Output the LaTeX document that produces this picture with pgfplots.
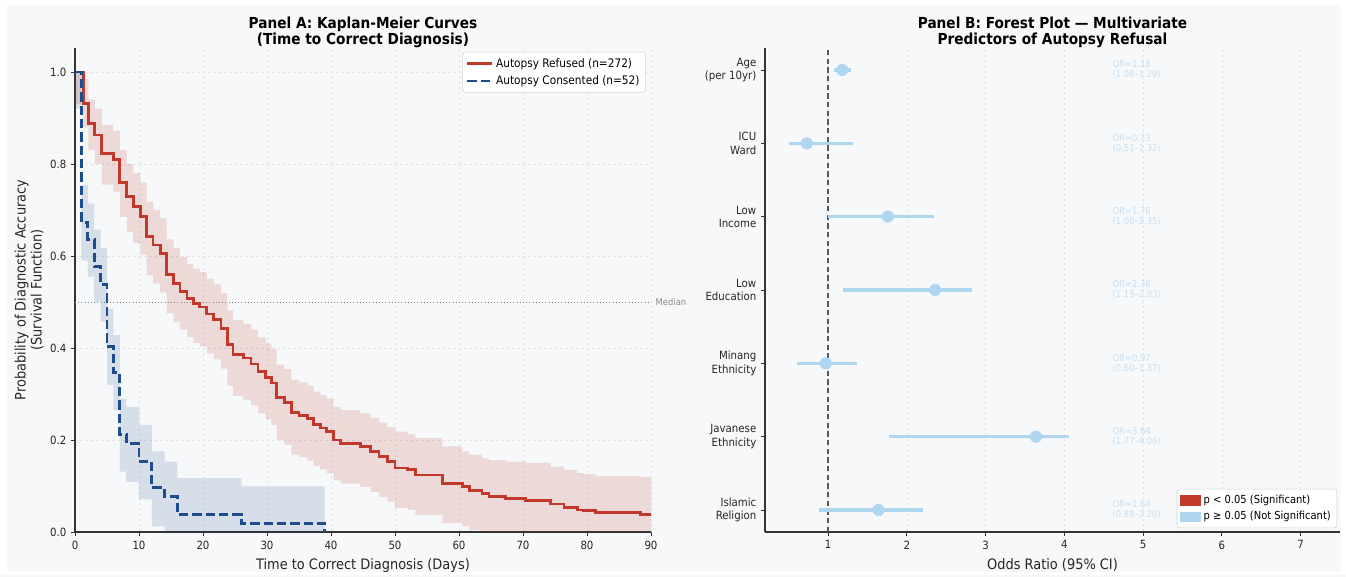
\documentclass[border=0pt]{standalone}
\usepackage{fontspec}
\setmainfont{DejaVu Sans Condensed}
\usepackage{pgfplots}
\usepackage{pgfplotstable}
\pgfplotsset{compat=1.18}
\usepgfplotslibrary{fillbetween}

\definecolor{bgc}{HTML}{F6F8FA}
\definecolor{redc}{HTML}{C0392B}
\definecolor{bluec}{HTML}{1E4D8C}
\definecolor{ltblue}{HTML}{AED6F1}
\definecolor{annc}{HTML}{C6DFF2}
\definecolor{spine}{HTML}{333333}

\pgfplotstableread{
t S lo hi
0 1.000 0.930 1.000
1.3 0.932 0.880 0.985
2.1 0.888 0.830 0.940
3.1 0.863 0.800 0.920
4.2 0.823 0.755 0.885
6.0 0.809 0.740 0.872
7.0 0.759 0.685 0.830
8.1 0.729 0.652 0.800
9.1 0.707 0.628 0.780
10.2 0.685 0.603 0.760
11.2 0.642 0.558 0.718
12.2 0.624 0.540 0.700
13.3 0.606 0.521 0.682
14.3 0.560 0.475 0.636
15.4 0.541 0.456 0.617
16.4 0.522 0.440 0.598
17.5 0.507 0.423 0.583
18.5 0.496 0.411 0.572
19.5 0.489 0.403 0.565
20.6 0.474 0.388 0.550
21.7 0.462 0.375 0.538
22.8 0.443 0.355 0.519
23.8 0.407 0.318 0.482
24.7 0.386 0.296 0.461
26.3 0.378 0.288 0.453
27.5 0.365 0.275 0.440
28.6 0.349 0.258 0.423
29.8 0.336 0.245 0.410
30.7 0.324 0.233 0.398
31.5 0.292 0.200 0.364
32.7 0.282 0.190 0.354
33.8 0.259 0.168 0.331
35.0 0.253 0.162 0.325
36.3 0.246 0.155 0.318
37.3 0.233 0.143 0.305
38.3 0.226 0.136 0.298
39.3 0.218 0.128 0.290
40.4 0.200 0.112 0.272
41.5 0.193 0.105 0.265
44.6 0.186 0.098 0.258
46.2 0.175 0.087 0.248
47.5 0.164 0.076 0.238
48.8 0.153 0.066 0.228
50.0 0.139 0.052 0.218
52.0 0.135 0.048 0.212
53.2 0.124 0.037 0.204
57.4 0.106 0.020 0.186
60.5 0.099 0.012 0.175
61.6 0.091 0.004 0.168
63.6 0.084 0.000 0.160
64.7 0.078 0.000 0.156
67.3 0.072 0.000 0.153
70.4 0.068 0.000 0.150
74.3 0.061 0.000 0.142
76.4 0.054 0.000 0.135
78.5 0.048 0.000 0.128
79.5 0.046 0.000 0.126
81.3 0.042 0.000 0.122
88.3 0.038 0.000 0.120
90.0 0.038 0.000 0.120
}\redtab

\pgfplotstableread{
t S lo hi
0 1.000 0.920 1.000
1 0.673 0.590 0.754
2 0.635 0.555 0.714
3 0.577 0.500 0.657
4 0.538 0.457 0.617
5 0.404 0.320 0.485
6 0.346 0.265 0.428
7 0.212 0.131 0.290
8 0.192 0.109 0.272
10 0.154 0.071 0.233
12 0.096 0.012 0.175
14 0.077 0.000 0.153
16 0.038 0.000 0.117
26 0.019 0.000 0.099
39 0.000 0.000 0.099
}\bluetab

\pgfplotstableread{
y or lo hi
6 1.18 1.08 1.29
5 0.73 0.51 1.32
4 1.76 1.00 2.35
3 2.36 1.19 2.83
2 0.97 0.60 1.37
1 3.64 1.77 4.06
0 1.64 0.89 2.20
}\foresttab

\tikzset{ann/.style={anchor=west, align=left, text=annc, inner sep=0pt, font=\fontsize{7}{7.6}\selectfont}}

\pgfplotsset{
  /pgf/number format/assume math mode=true,
  myax/.style={
    scale only axis, anchor=south west,
    axis lines=left, axis line style={-, draw=spine, line width=0.8pt},
    tick align=outside, tick style={draw=spine, line width=0.6pt}, major tick length=3pt,
    ticklabel style={font=\fontsize{8.5}{10}\selectfont, text=black!85},
    label style={font=\fontsize{10.8}{12}\selectfont, text=black!85},
    title style={font=\bfseries\fontsize{11.4}{12}\selectfont, align=center, yshift=-9pt},
    major grid style={draw=gray!22, dash pattern=on 2pt off 2pt, line width=0.4pt},
    axis background/.style={fill=bgc},
    clip=false,
  }
}

\begin{document}
\pagecolor{bgc}%
\begin{tikzpicture}
\path (0,0) rectangle (1009.5pt,-431.25pt);
% ---------------- Panel A ----------------
\begin{axis}[myax,
  at={(56.25pt,-399pt)}, width=432pt, height=363pt,
  xmin=0, xmax=90, ymin=0, ymax=1.052,
  xtick={0,10,...,90}, ytick={0,0.2,0.4,0.6,0.8,1.0},
  yticklabel style={/pgf/number format/.cd, fixed, fixed zerofill, precision=1},
  grid=major,
  title={Panel A: Kaplan-Meier Curves\\(Time to Correct Diagnosis)},
  xlabel={Time to Correct Diagnosis (Days)},
  ylabel={Probability of Diagnostic Accuracy\\(Survival Function)},
  ylabel style={align=center, yshift=-2pt},
  legend style={at={(0.991,0.992)}, anchor=north east, font=\fontsize{8.8}{10.5}\selectfont,
    draw=black!18, fill=white, rounded corners=2pt, inner sep=2.5pt, row sep=0.8pt},
  legend cell align=left,
  legend image code/.code={\draw[#1, sharp plot] (0cm,0cm) -- (0.65cm,0cm);},
]
\addplot[name path=rhi, draw=none, const plot, forget plot] table[x=t, y=hi]{\redtab};
\addplot[name path=rlo, draw=none, const plot, forget plot] table[x=t, y=lo]{\redtab};
\addplot[fill=redc, fill opacity=0.16, draw=none, forget plot] fill between[of=rhi and rlo];
\addplot[name path=bhi, draw=none, const plot, forget plot] table[x=t, y=hi]{\bluetab};
\addplot[name path=blo, draw=none, const plot, forget plot] table[x=t, y=lo]{\bluetab};
\addplot[fill=bluec, fill opacity=0.15, draw=none, forget plot] fill between[of=bhi and blo];
\addplot[gray, line width=0.7pt, dash pattern=on 0.8pt off 1.6pt, forget plot] coordinates {(0,0.5) (90,0.5)};
\node[anchor=west, text=gray!90, font=\fontsize{7}{8}\selectfont] at (axis cs:90,0.5) {Median};
\addplot[redc, line width=2.1pt, const plot] table[x=t, y=S]{\redtab};
\addlegendentry{Autopsy Refused (n=272)}
\addplot[bluec, line width=2.1pt, dash pattern=on 7pt off 3pt, const plot] table[x=t, y=S]{\bluetab};
\addlegendentry{Autopsy Consented (n=52)}
\end{axis}

% ---------------- Panel B ----------------
\begin{axis}[myax,
  at={(573.75pt,-399pt)}, width=431.25pt, height=363pt,
  xmin=0.2, xmax=7.5, ymin=-0.3, ymax=6.3,
  xtick={1,...,7}, ytick={0,...,6},
  yticklabels={{Islamic\\Religion},{Javanese\\Ethnicity},{Minang\\Ethnicity},{Low\\Education},{Low\\Income},{ICU\\Ward},{Age\\(per 10yr)}},
  yticklabel style={align=right, font=\fontsize{8.5}{10}\selectfont},
  xmajorgrids,
  title={Panel B: Forest Plot — Multivariate\\Predictors of Autopsy Refusal},
  xlabel={Odds Ratio (95\% CI)},
  legend style={at={(0.995,0.008)}, anchor=south east, font=\fontsize{8.3}{10}\selectfont,
    draw=black!18, fill=white, rounded corners=2pt, inner sep=2.5pt, row sep=0.5pt},
  legend cell align=left,
]
\addplot[black!65, line width=1pt, dash pattern=on 4pt off 2.5pt, forget plot] coordinates {(1,-0.3) (1,6.3)};
\addplot[only marks, mark=*, mark size=4.3pt, color=ltblue, forget plot,
  error bars/.cd, x dir=both, x explicit, error mark=none,
  error bar style={line width=2.3pt, ltblue}]
  table[x=or, y=y, x error plus expr=\thisrow{hi}-\thisrow{or}, x error minus expr=\thisrow{or}-\thisrow{lo}]{\foresttab};
\addlegendimage{legend image code/.code={\fill[redc, sharp corners] (0cm,-0.12cm) rectangle (0.53cm,0.12cm);}}
\addlegendentry{p < 0.05 (Significant)}
\addlegendimage{legend image code/.code={\fill[ltblue, sharp corners] (0cm,-0.12cm) rectangle (0.53cm,0.12cm);}}
\addlegendentry{p ≥ 0.05 (Not Significant)}
\node[ann] at (axis cs:4.61,6) {OR=1.18\\(1.08–1.29)};
\node[ann] at (axis cs:4.61,5) {OR=0.73\\(0.51–1.32)};
\node[ann] at (axis cs:4.61,4) {OR=1.76\\(1.00–2.35)};
\node[ann] at (axis cs:4.61,3) {OR=2.36\\(1.19–2.83)};
\node[ann] at (axis cs:4.61,2) {OR=0.97\\(0.60–1.37)};
\node[ann] at (axis cs:4.61,1) {OR=3.64\\(1.77–4.06)};
\node[ann] at (axis cs:4.61,0) {OR=1.64\\(0.89–2.20)};
\end{axis}
\fill[white, even odd rule] (0,0) rectangle (1009.5pt,-431.25pt) (5.25pt,-3.75pt) rectangle (1005.75pt,-429pt);
\end{tikzpicture}%
\end{document}
